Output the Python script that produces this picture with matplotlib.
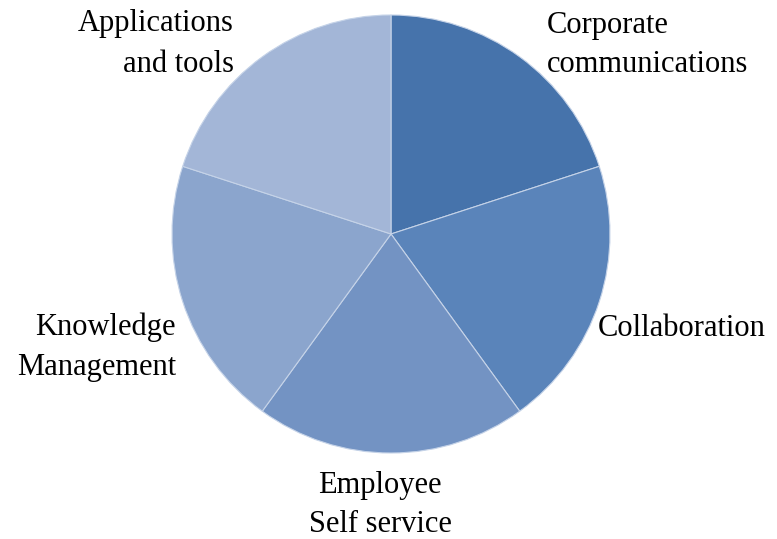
import matplotlib.pyplot as plt

# slices, clockwise from 12 o'clock
categories = ["Corporate\ncommunications", "Collaboration", "Employee\nSelf service",
              "Knowledge\nManagement", "Applications\nand tools"]
shares = [1, 1, 1, 1, 1]
colors = ["#4673AB", "#5A84BA", "#7393C3", "#8BA5CD", "#A3B6D7"]

plt.rcParams['font.family'] = ['Liberation Serif', 'DejaVu Serif']

W, H = 777, 539
fig = plt.figure(figsize=(W / 100, H / 100), dpi=100)
ax = fig.add_axes([0, 0, 1, 1])
ax.set_xlim(0, W)
ax.set_ylim(0, H)
ax.set_aspect('equal')
ax.axis('off')

ax.pie(shares, colors=colors, startangle=90, counterclock=False,
       center=(391, H - 234), radius=219, frame=True,
       wedgeprops=dict(edgecolor='#C5D3E8', linewidth=0.8))
ax.axis('off')

fs = 22
ls = 1.5
# label placement (pixel coords, y from top)
ax.text(547, H - 45, categories[0], ha='left', va='center', fontsize=fs, linespacing=ls)
ax.text(598, H - 329, categories[1], ha='left', va='center', fontsize=fs, linespacing=ls)
ax.text(380, H - 505, categories[2], ha='center', va='center', fontsize=fs, linespacing=ls,
        multialignment='center')
ax.text(176, H - 347, categories[3], ha='right', va='center', fontsize=fs, linespacing=ls,
        multialignment='right')
ax.text(234, H - 44, categories[4], ha='right', va='center', fontsize=fs, linespacing=ls,
        multialignment='right')

fig.savefig('out.png', dpi=100)
